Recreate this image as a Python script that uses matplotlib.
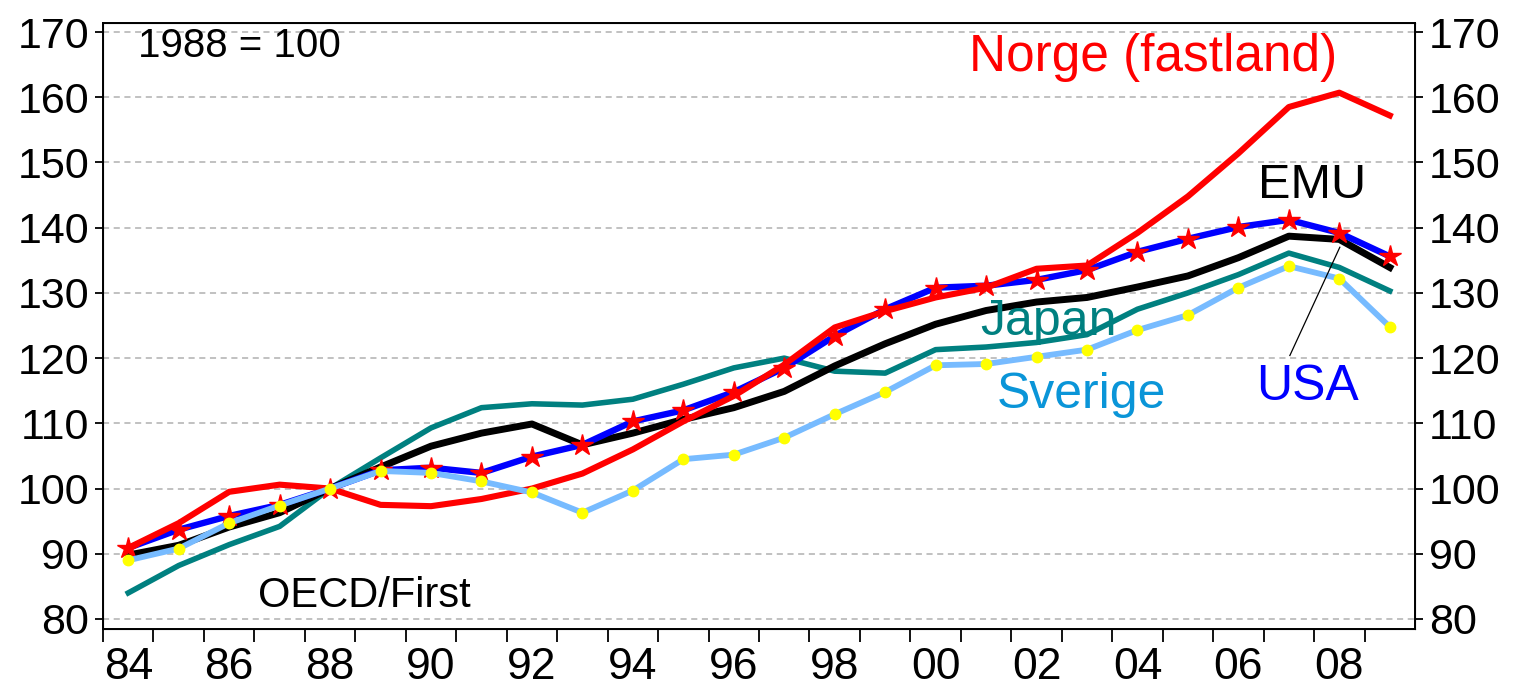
#!/usr/bin/env python

import numpy as np
import matplotlib
matplotlib.use('Agg')
import matplotlib.pyplot as plt

plt.rcParams['font.family'] = ['Liberation Sans', 'DejaVu Sans']

years = list(range(1984, 2010))

norge = [90.9, 94.7, 99.5, 100.6, 100.0, 97.5, 97.3, 98.4, 100.0, 102.3,
         106.0, 110.3, 114.2, 119.0, 124.7, 127.2, 129.3, 130.8, 133.7, 134.2,
         139.2, 144.8, 151.4, 158.5, 160.7, 157.2]
usa = [90.9, 93.7, 95.8, 97.5, 100.0, 102.8, 103.2, 102.4, 104.9, 106.7,
       110.3, 112.0, 114.8, 118.5, 123.4, 127.5, 130.8, 131.1, 132.0, 133.5,
       136.3, 138.3, 140.1, 141.2, 139.2, 135.6]
emu = [89.8, 91.3, 94.1, 96.3, 100.0, 103.3, 106.5, 108.5, 109.9, 106.7,
       108.5, 110.6, 112.4, 114.9, 118.8, 122.2, 125.2, 127.3, 128.6, 129.3,
       130.9, 132.6, 135.4, 138.7, 138.2, 133.9]
japan = [84.0, 88.2, 91.4, 94.2, 100.0, 104.7, 109.3, 112.4, 113.0, 112.8,
         113.7, 116.0, 118.5, 120.0, 118.0, 117.7, 121.3, 121.7, 122.4, 123.6,
         127.5, 130.0, 132.8, 136.1, 133.9, 130.3]
sverige = [89.0, 90.8, 94.7, 97.4, 100.0, 102.7, 102.4, 101.1, 99.4, 96.3,
           99.7, 104.5, 105.2, 107.8, 111.4, 114.8, 118.9, 119.1, 120.2, 121.3,
           124.3, 126.6, 130.8, 134.1, 132.2, 124.8]

yticks = list(range(80, 171, 10))
xlabels = ['84', '86', '88', '90', '92', '94', '96', '98', '00', '02', '04', '06', '08']

fig = plt.figure(figsize=(15.22, 6.96), dpi=100)
ax = fig.add_axes([0.0677, 0.0963, 0.862, 0.8711])

ax.plot(years, japan, color='#008080', lw=4.0, zorder=3)
ax.plot(years, emu, color='black', lw=5.0, zorder=4)
ax.plot(years, usa, color='#0000FF', lw=4.6, zorder=5,
        marker='*', markersize=16, markerfacecolor='#FF0000', markeredgecolor='#FF0000')
ax.plot(years, norge, color='#FF0000', lw=4.4, zorder=6)
ax.plot(years, sverige, color='#77BBFF', lw=4.2, zorder=7,
        marker='o', markersize=7.5, markerfacecolor='#FFFF00', markeredgecolor='#FFFF00')

ax.set_xlim(1983.5, 2009.5)
ax.set_ylim(78.47, 171.43)

ax.set_yticks(yticks)
ax.grid(axis='y', linestyle=(0, (4, 3)), color='#b0b0b0', lw=1.1)
ax.set_axisbelow(True)

# year boundaries get the tick marks, labels sit in the middle of each year
ax.set_xticks(np.arange(1983.5, 2009, 1.0))
ax.set_xticklabels([])
ax.set_xticks(np.arange(1984, 2009, 2) + 0.0, minor=True)
ax.set_xticklabels(xlabels, minor=True)
ax.tick_params(axis='x', which='major', length=9, width=1.3, direction='out')
ax.tick_params(axis='x', which='minor', length=0, labelsize=32, pad=13)
ax.tick_params(axis='y', length=6, width=1.3, direction='out', labelsize=31, pad=4)

for s in ax.spines.values():
    s.set_linewidth(1.4)

ax2 = ax.twinx()
ax2.set_ylim(ax.get_ylim())
ax2.set_yticks(yticks)
ax2.tick_params(axis='y', length=6, width=1.3, direction='out', labelsize=31, pad=4)

ax.text(1984.2, 166.2, '1988 = 100', fontsize=29, ha='left', va='baseline')
ax.text(2004.31, 164.0, 'Norge (fastland)', fontsize=37, color='#FF0000', ha='center', va='baseline')
ax.text(2007.46, 144.6, 'EMU', fontsize=35, color='black', ha='center', va='baseline')
ax.text(2002.24, 123.6, 'Japan', fontsize=36, color='#008080', ha='center', va='baseline', zorder=8)
ax.text(2002.89, 112.4, 'Sverige', fontsize=36, color='#0A95D8', ha='center', va='baseline')
ax.text(2007.37, 113.6, 'USA', fontsize=36, color='#0000FF', ha='center', va='baseline')
ax.text(1988.67, 81.9, 'OECD/First', fontsize=30, color='black', ha='center', va='baseline')
ax.plot([2007.02, 2008.01], [120.4, 137.0], color='black', lw=0.9, zorder=9)

fig.savefig('out.png', dpi=100)
